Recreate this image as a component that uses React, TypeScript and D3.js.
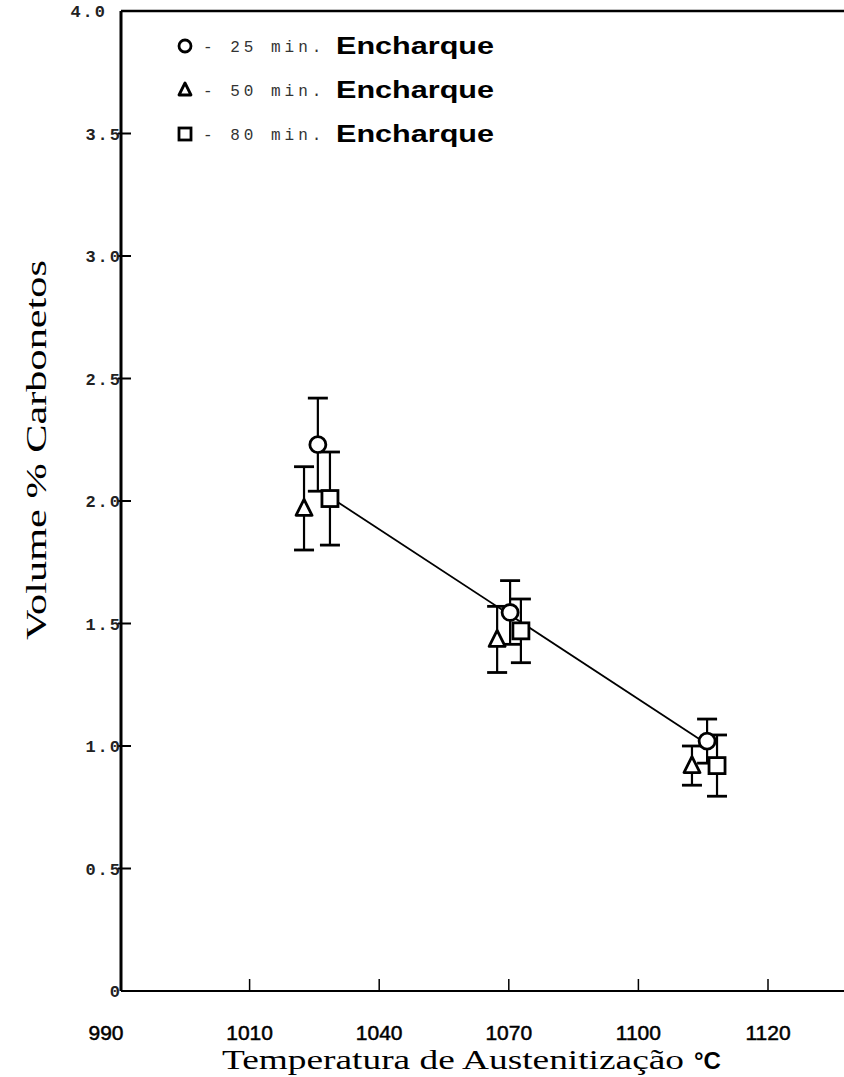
import React from 'react';
import * as d3 from 'd3';

// ---- data ----
const xTickValues = [980, 1010, 1040, 1070, 1100, 1130];
const xTickLabels = ['990', '1010', '1040', '1070', '1100', '1120'];
const yTickValues = [0, 0.5, 1, 1.5, 2, 2.5, 3, 3.5, 4];
const yTickLabels = ['0', '0.5', '1.0', '1.5', '2.0', '2.5', '3.0', '3.5', '4.0'];

const temps25 = [1025.8, 1070.3, 1115.9];
const vol25 = [2.23, 1.545, 1.02];
const err25 = [0.19, 0.13, 0.09];

const temps50 = [1022.6, 1067.3, 1112.4];
const vol50 = [1.97, 1.435, 0.92];
const err50 = [0.17, 0.135, 0.08];

const temps80 = [1028.6, 1072.8, 1118.2];
const vol80 = [2.01, 1.47, 0.92];
const err80 = [0.19, 0.13, 0.125];

const fitTemps = [1030, 1114];
const fitVols = [2.0, 1.03];

const legendLabels = ['25', '50', '80'];

export default function App() {
  const W = 844;
  const H = 1077;
  const x = d3.scaleLinear().domain([980, 1130]).range([120, 768]);
  const y = d3.scaleLinear().domain([0, 4]).range([991, 11]);
  const left = 121;
  const right = 844;
  const top = 11;
  const bottom = 991;

  const mono = "'Liberation Mono', 'DejaVu Sans Mono', monospace";
  const sans = "'Liberation Sans', Arial, sans-serif";
  const serif = "'Liberation Serif', 'Times New Roman', serif";

  const series = [
    { shape: 'circle', t: temps25, v: vol25, e: err25 },
    { shape: 'triangle', t: temps50, v: vol50, e: err50 },
    { shape: 'square', t: temps80, v: vol80, e: err80 },
  ];

  const marker = (shape: string, cx: number, cy: number, key: string, s = 8) => {
    if (shape === 'circle')
      return <circle key={key} cx={cx} cy={cy} r={s} fill="white" stroke="black" strokeWidth={2.8} />;
    if (shape === 'triangle') {
      const p = `${cx},${cy - s - 1} ${cx + s},${cy + s - 1} ${cx - s},${cy + s - 1}`;
      return <polygon key={key} points={p} fill="white" stroke="black" strokeWidth={2.8} strokeLinejoin="round" />;
    }
    return <rect key={key} x={cx - s} y={cy - s} width={2 * s} height={2 * s} fill="white" stroke="black" strokeWidth={2.8} />;
  };

  const line = d3.line<number>().x((_, i) => x(fitTemps[i])).y((d) => y(d));

  return (
    <svg width={W} height={H} style={{ position: 'absolute', left: 0, top: 0, background: 'white' }}>
      <rect x={0} y={0} width={W} height={H} fill="white" />
      {/* axes */}
      <line x1={left} y1={top} x2={left} y2={bottom} stroke="black" strokeWidth={3} />
      <line x1={left} y1={top} x2={right} y2={top} stroke="black" strokeWidth={2.4} />
      <line x1={left} y1={bottom} x2={right} y2={bottom} stroke="black" strokeWidth={2} />
      {/* y ticks */}
      {yTickValues.map((v, i) => (
        <g key={'yt' + i}>
          {i > 0 && i < yTickValues.length - 1 && (
            <line x1={left - 3} x2={left + 10} y1={y(v)} y2={y(v)} stroke="black" strokeWidth={2} />
          )}
          <text
            x={i === yTickValues.length - 1 ? left - 14 : left + 1}
            y={y(v) + 6}
            textAnchor="end"
            fontFamily={mono}
            fontSize={17}
            fontWeight="bold"
            letterSpacing={2}
            fill="#222"
          >
            {yTickLabels[i]}
          </text>
        </g>
      ))}
      {/* x ticks */}
      {xTickValues.map((v, i) => (
        <g key={'xt' + i}>
          {i > 0 && <line x1={x(v)} x2={x(v)} y1={bottom} y2={bottom - 12} stroke="black" strokeWidth={1.5} />}
          <text
            x={i === 0 ? x(v) - 14 : x(v)}
            y={1040}
            textAnchor="middle"
            fontFamily={sans}
            fontSize={21}
            stroke="black"
            strokeWidth={0.5}
            fill="black"
          >
            {xTickLabels[i]}
          </text>
        </g>
      ))}
      {/* fit line */}
      <path d={line(fitVols) || ''} fill="none" stroke="black" strokeWidth={1.8} />
      {/* error bars */}
      {series.map((s, si) =>
        s.t.map((t, i) => {
          const cx = x(t);
          const y1 = y(s.v[i] + s.e[i]);
          const y2 = y(s.v[i] - s.e[i]);
          return (
            <g key={'eb' + si + '-' + i}>
              <line x1={cx} x2={cx} y1={y1} y2={y2} stroke="black" strokeWidth={2.2} />
              <line x1={cx - 10} x2={cx + 10} y1={y1} y2={y1} stroke="black" strokeWidth={2.8} />
              <line x1={cx - 10} x2={cx + 10} y1={y2} y2={y2} stroke="black" strokeWidth={2.8} />
            </g>
          );
        })
      )}
      {/* markers */}
      {series.map((s, si) => s.t.map((t, i) => marker(s.shape, x(t), y(s.v[i]), 'm' + si + '-' + i)))}
      {/* legend */}
      {series.map((s, i) => {
        const ly = 46 + i * 44;
        return (
          <g key={'lg' + i}>
            {marker(s.shape, 185, ly, 'lm' + i, 6)}
            <text x={203} y={ly + 6} fontFamily={mono} fontSize={16} letterSpacing={4} fill="#333" xmlSpace="preserve">
              {`- ${legendLabels[i]} min.`}
            </text>
            <text
              x={336}
              y={ly + 8}
              fontFamily={sans}
              fontSize={23}
              fontWeight="bold"
              textLength={158}
              lengthAdjust="spacingAndGlyphs"
              fill="black"
            >
              Encharque
            </text>
          </g>
        );
      })}
      {/* axis titles */}
      <text x={222} y={1069} fontFamily={serif} fontSize={27} textLength={462} lengthAdjust="spacingAndGlyphs" fill="black">
        Temperatura de Austenitização
      </text>
      <text x={694} y={1069} fontFamily={sans} fontSize={24} fontWeight="bold" fill="black">
        °C
      </text>
      <text
        transform="translate(46,450) rotate(-90)"
        textAnchor="middle"
        fontFamily={serif}
        fontSize={30}
        textLength={380}
        lengthAdjust="spacingAndGlyphs"
        fill="black"
      >
        Volume % Carbonetos
      </text>
    </svg>
  );
}
